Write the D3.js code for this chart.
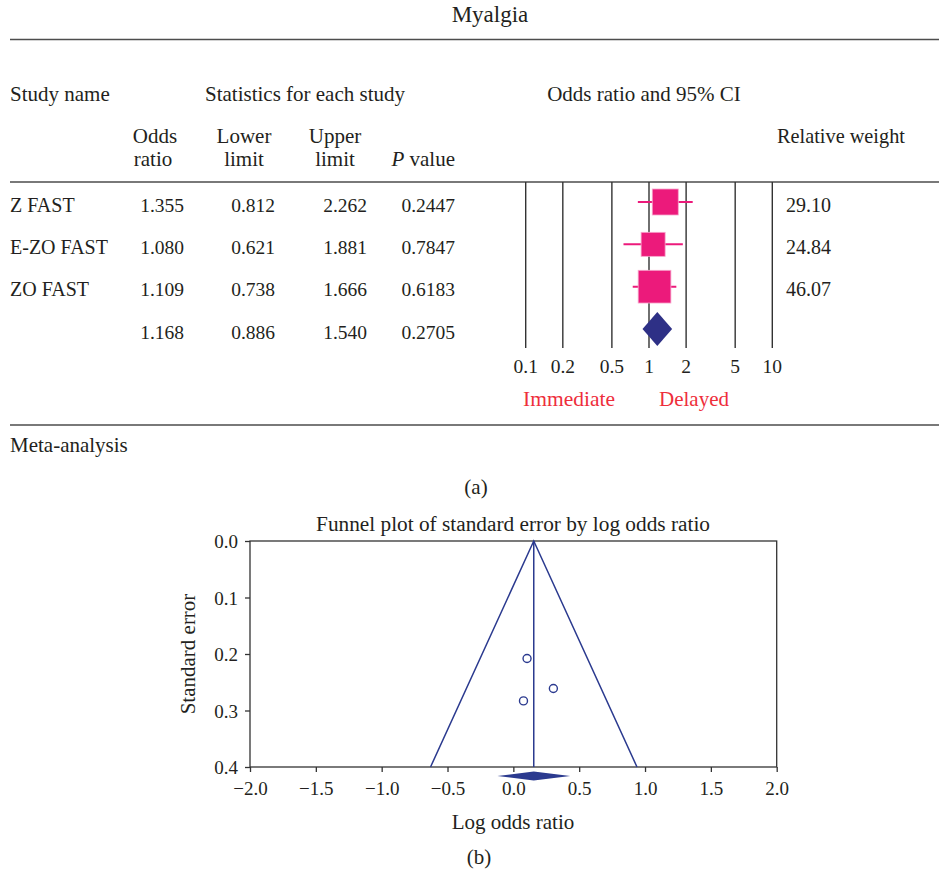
<!DOCTYPE html>
<html><head><meta charset="utf-8">
<script src="https://cdn.jsdelivr.net/npm/d3@7"></script>
<style>
html,body{margin:0;padding:0;background:#fff;}
svg text{font-family:"Liberation Serif","Times New Roman",serif;fill:#231f20;}
</style></head>
<body>
<svg id="c" width="939" height="871"></svg>
<script>
// ---- data ----
const studies = ["Z FAST", "E-ZO FAST", "ZO FAST", ""];
const oddsRatio = [1.355, 1.080, 1.109, 1.168];
const lowerLimit = [0.812, 0.621, 0.738, 0.886];
const upperLimit = [2.262, 1.881, 1.666, 1.540];
const pValue = ["0.2447", "0.7847", "0.6183", "0.2705"];
const relWeight = ["29.10", "24.84", "46.07"];
const forestTicks = [0.1, 0.2, 0.5, 1, 2, 5, 10];
const funnelLogOR = [0.304, 0.077, 0.104];
const funnelSE = [0.261, 0.283, 0.208];
const summaryLogOR = 0.155;
const summaryCI = [-0.121, 0.432];
const funnelBase = [-0.629, 0.939];
const funnelXTicks = [-2.0, -1.5, -1.0, -0.5, 0.0, 0.5, 1.0, 1.5, 2.0];
const funnelYTicks = [0.0, 0.1, 0.2, 0.3, 0.4];

const PINK = "#ec1a7b", NAVY = "#2e3086", RED = "#ee2e3b", LINEBLUE = "#2b3a8f", GRID = "#333";
const FW = 21;   // words
const FN = 19.5; // numbers

const svg = d3.select("#c");

// ---- part (a): forest plot ----
const xF = d3.scaleLog().domain([0.1, 10]).range([525.7, 772.3]);
const yRow = d3.scaleLinear().domain([0, 3]).range([202, 329]);
const sz = d3.scaleSqrt().domain([0, 100]).range([0, 48.2]);

function txt(x, y, s, anchor, fs, fill) {
  const t = svg.append("text").attr("x", x).attr("y", y).attr("font-size", fs || FW)
    .attr("text-anchor", anchor || "start").text(s);
  if (fill) t.style("fill", fill);
  return t;
}
function rule(y) {
  svg.append("line").attr("x1", 10).attr("x2", 939).attr("y1", y).attr("y2", y)
    .attr("stroke", "#4d4d4d").attr("stroke-width", 1.6);
}

txt(490, 22, "Myalgia", "middle", 23);
rule(39.5);
txt(10, 101, "Study name");
txt(305, 101, "Statistics for each study", "middle");
txt(644, 101, "Odds ratio and 95% CI", "middle");
txt(155, 143, "Odds", "middle");
txt(153, 166, "ratio", "middle");
txt(244, 143, "Lower", "middle");
txt(244, 166, "limit", "middle");
txt(335, 143, "Upper", "middle");
txt(335, 166, "limit", "middle");
const pv = txt(455, 166, "", "end");
pv.append("tspan").style("font-style", "italic").text("P");
pv.append("tspan").text(" value");
txt(841, 143, "Relative weight", "middle", 20.3);
rule(182);

// gridlines
svg.append("g").selectAll("line").data(forestTicks).join("line")
  .attr("x1", d => xF(d)).attr("x2", d => xF(d)).attr("y1", 182).attr("y2", 348)
  .attr("stroke", GRID).attr("stroke-width", 1.4);
svg.append("g").selectAll("text").data(forestTicks).join("text")
  .attr("x", d => xF(d)).attr("y", 373).attr("text-anchor", "middle").attr("font-size", FN)
  .text(d => String(d));

// table rows
studies.forEach((s, i) => {
  const yb = yRow(i) + 9.5;
  if (s) txt(10, yb, s, "start", 20);
  txt(184, yb, oddsRatio[i].toFixed(3), "end", FN);
  txt(275, yb, lowerLimit[i].toFixed(3), "end", FN);
  txt(367, yb, upperLimit[i].toFixed(3), "end", FN);
  txt(455, yb, pValue[i], "end", FN);
  if (i < 3) txt(786, yb, relWeight[i], "start", 20);
});

// CI lines and squares
const studyIdx = [0, 1, 2];
svg.append("g").selectAll("line").data(studyIdx).join("line")
  .attr("x1", i => xF(lowerLimit[i])).attr("x2", i => xF(upperLimit[i]))
  .attr("y1", i => yRow(i)).attr("y2", i => yRow(i))
  .attr("stroke", PINK).attr("stroke-width", 2);
svg.append("g").selectAll("rect").data(studyIdx).join("rect")
  .attr("x", i => xF(oddsRatio[i]) - sz(+relWeight[i]) / 2)
  .attr("y", i => yRow(i) - sz(+relWeight[i]) / 2)
  .attr("width", i => sz(+relWeight[i])).attr("height", i => sz(+relWeight[i]))
  .attr("fill", PINK).attr("stroke", "#f7a6cc").attr("stroke-width", 0.8);
// summary diamond
{
  const yc = yRow(3), h = 17;
  const pts = [[xF(lowerLimit[3]), yc], [xF(oddsRatio[3]), yc - h], [xF(upperLimit[3]), yc], [xF(oddsRatio[3]), yc + h]];
  svg.append("path").attr("d", d3.line()(pts) + "Z").attr("fill", NAVY);
}
txt(569, 406, "Immediate", "middle", 21.5, RED);
txt(694, 406, "Delayed", "middle", 21, RED);
rule(425);
txt(10, 452, "Meta-analysis");
txt(476, 494, "(a)", "middle");

// ---- part (b): funnel plot ----
const xL = d3.scaleLinear().domain([-2, 2]).range([250, 776.7]);
const yS = d3.scaleLinear().domain([0, 0.4]).range([541, 767]);

txt(513, 531, "Funnel plot of standard error by log odds ratio", "middle", 21.3);
svg.append("rect").attr("x", xL(-2)).attr("y", yS(0)).attr("width", xL(2) - xL(-2)).attr("height", yS(0.4) - yS(0))
  .attr("fill", "none").attr("stroke", "#333").attr("stroke-width", 1.3);

const fmt = d3.format(".1f");
const gx = svg.append("g").attr("transform", `translate(0,${yS(0.4)})`)
  .call(d3.axisBottom(xL).tickValues(funnelXTicks).tickFormat(fmt).tickSize(5).tickSizeOuter(0));
const gy = svg.append("g").attr("transform", `translate(${xL(-2)},0)`)
  .call(d3.axisLeft(yS).tickValues(funnelYTicks).tickFormat(fmt).tickSize(5).tickSizeOuter(0));
[gx, gy].forEach(g => {
  g.select(".domain").remove();
  g.selectAll("line").attr("stroke", "#333").attr("stroke-width", 1.3);
  g.selectAll("text").attr("font-size", 19).attr("font-family", "Liberation Serif").style("fill", "#231f20");
});
gx.selectAll("text").attr("dy", null).attr("y", 28);
gy.selectAll("text").attr("dy", "0.35em").attr("x", -12);

// funnel lines
svg.append("path").attr("fill", "none").attr("stroke", LINEBLUE).attr("stroke-width", 1.5)
  .attr("d", d3.line()([[xL(funnelBase[0]), yS(0.4)], [xL(summaryLogOR), yS(0)], [xL(funnelBase[1]), yS(0.4)]]));
svg.append("line").attr("x1", xL(summaryLogOR)).attr("x2", xL(summaryLogOR)).attr("y1", yS(0)).attr("y2", yS(0.4))
  .attr("stroke", LINEBLUE).attr("stroke-width", 1.5);
// points
svg.append("g").selectAll("circle").data(funnelLogOR).join("circle")
  .attr("cx", d => xL(d)).attr("cy", (d, i) => yS(funnelSE[i])).attr("r", 4)
  .attr("fill", "none").attr("stroke", LINEBLUE).attr("stroke-width", 1.4);
// summary diamond
{
  const yc = 776, h = 4.5;
  const pts = [[xL(summaryCI[0]), yc], [xL(summaryLogOR), yc - h], [xL(summaryCI[1]), yc], [xL(summaryLogOR), yc + h]];
  svg.append("path").attr("d", d3.line()(pts) + "Z").attr("fill", LINEBLUE);
}
svg.append("text").attr("transform", `translate(195,654) rotate(-90)`).attr("text-anchor", "middle")
  .attr("font-size", 21).text("Standard error");
txt(513, 829, "Log odds ratio", "middle");
txt(479, 864, "(b)", "middle");
</script>
</body></html>
